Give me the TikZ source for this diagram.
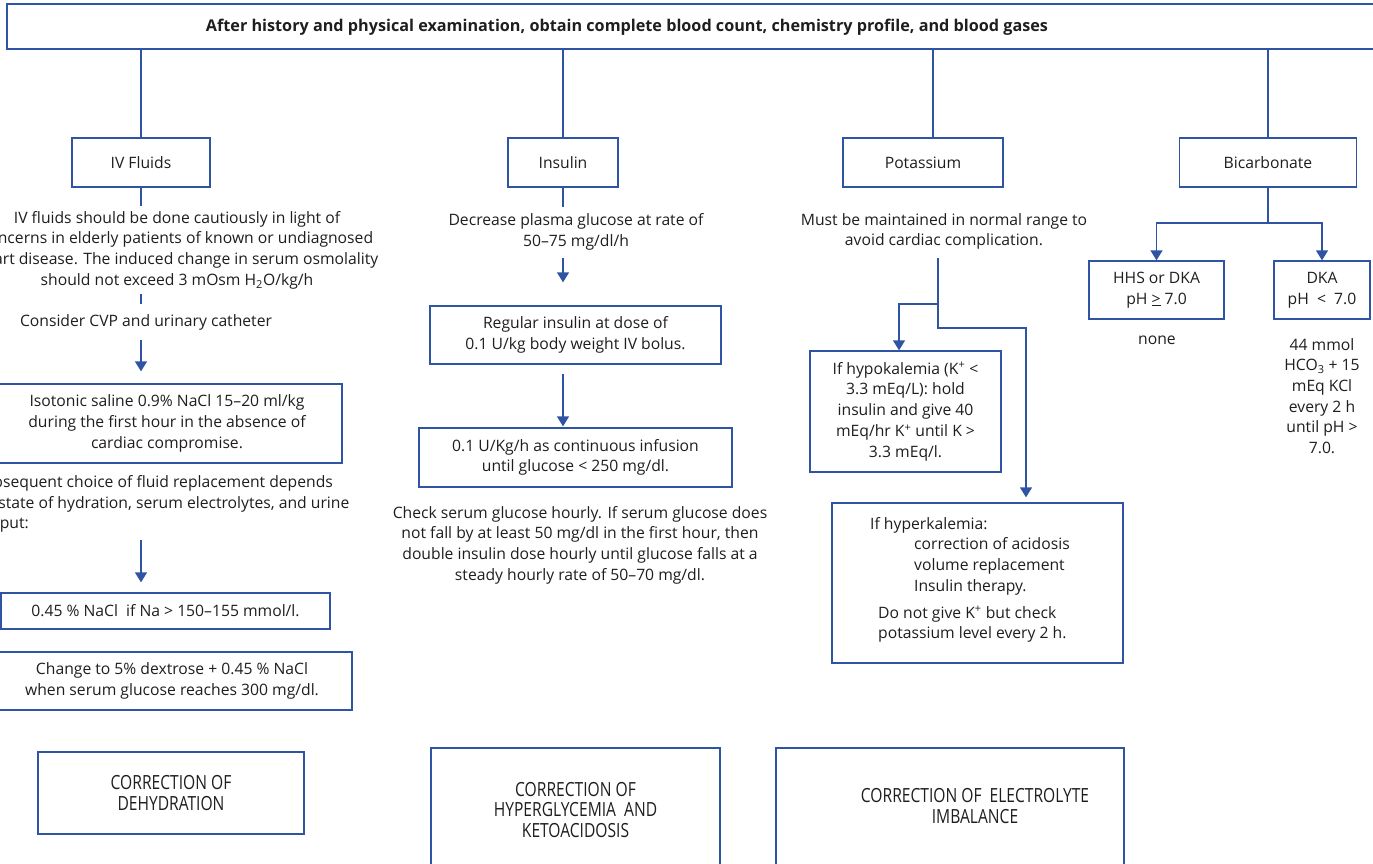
\documentclass[tikz,border=0pt]{standalone}
\usepackage{fontspec}
\setmainfont{Open Sans}
\newfontfamily\narrowfont[FakeStretch=0.8]{Open Sans}
\usetikzlibrary{arrows.meta}
\definecolor{flowblue}{RGB}{47,84,163}
\definecolor{ink}{RGB}{30,30,30}

\begin{document}
\begin{tikzpicture}[x=1pt,y=-1pt,
  every node/.style={text=ink, font=\fontsize{15.7}{20.7}\selectfont, inner sep=0pt, align=center},
  box/.style={draw=flowblue, line width=1.3pt, inner sep=0pt},
  link/.style={draw=flowblue, line width=1.3pt},
  arrowlink/.style={link, -{Triangle[width=12pt,length=10pt]}},
  capstext/.style={font=\narrowfont\fontsize{19.5}{20.5}\selectfont}
]
\useasboundingbox (0,0) rectangle (1373,864);

% heading
\node[box, minimum width=1390pt, minimum height=45pt] (top) at (702,26.5) {};
\node[font=\bfseries\fontsize{16.2}{18}\selectfont] (title) at (627,27)
  {After history and physical examination, obtain complete blood count, chemistry profile, and blood gases};

% the four branches
\node[box, minimum width=138pt, minimum height=49pt] (ivf) at (141,162.5) {IV Fluids};
\node[box, minimum width=110pt, minimum height=49pt] (ins) at (563,162.5) {Insulin};
\node[box, minimum width=160pt, minimum height=49pt] (pot) at (923,162.5) {Potassium};
\node[box, minimum width=177pt, minimum height=49pt] (bic) at (1268,162.5) {Bicarbonate};

\draw[link] (ivf.north) -- (ivf.north |- top.south);
\draw[link] (ins.north) -- (ins.north |- top.south);
\coordinate (potin) at ([xshift=10pt]pot.north);
\draw[link] (potin) -- (potin |- top.south);
\draw[link] (bic.north) -- (bic.north |- top.south);

% IV fluids
\node (ivtxt) at (177,250) {IV fluids should be done cautiously in light of\\concerns in elderly patients of known or undiagnosed\\heart disease. The induced change in serum osmolality\\should not exceed 3 mOsm H\textsubscript{2}O/kg/h};
\node (cvp) at (146,322) {Consider CVP and urinary catheter};
\node[box, minimum width=350pt, minimum height=79pt] (iso) at (167,423.5)
  {Isotonic saline 0.9\% NaCl 15--20 ml/kg\\during the first hour in the absence of\\cardiac compromise.};
\node[align=left, anchor=west] (subs) at (-25,504)
  {Subsequent choice of fluid replacement depends\\on state of hydration, serum electrolytes, and urine\\output:};
\node[box, minimum width=329pt, minimum height=36pt] (nacl) at (165.5,611)
  {0.45 \% NaCl\ \ if Na > 150--155 mmol/l.};
\node[box, minimum width=360pt, minimum height=58pt] (dex) at (172,681)
  {Change to 5\% dextrose + 0.45 \% NaCl\\when serum glucose reaches 300 mg/dl.};

\draw[link, shorten >=5pt] (ivf.south) -- (ivf.south |- ivtxt.north);
\draw[link, shorten <=5pt, shorten >=10pt] (ivf.south |- ivtxt.south) -- (ivf.south |- cvp.north);
\draw[arrowlink, shorten <=10pt, shorten >=12pt] (ivf.south |- cvp.south) -- (ivf.south |- iso.north);
\draw[arrowlink, shorten <=7pt, shorten >=10pt] (ivf.south |- subs.south) -- (ivf.south |- nacl.north);

% insulin
\node (instxt) at (576,232) {Decrease plasma glucose at rate of\\50--75 mg/dl/h};
\node[box, minimum width=291pt, minimum height=58pt] (reg) at (575.5,335)
  {Regular insulin at dose of\\0.1 U/kg body weight IV bolus.};
\node[box, minimum width=313pt, minimum height=59pt] (inf) at (575.5,457.5)
  {0.1 U/Kg/h as continuous infusion\\until glucose < 250 mg/dl.};
\node (check) at (580,545) {Check serum glucose hourly. If serum glucose does\\not fall by at least 50 mg/dl in the first hour, then\\double insulin dose hourly until glucose falls at a\\steady hourly rate of 50--70 mg/dl.};

\draw[link, shorten >=7pt] (ins.south) -- (ins.south |- instxt.north);
\draw[arrowlink, shorten <=8pt, shorten >=23pt] (ins.south |- instxt.south) -- (ins.south |- reg.north);
\draw[arrowlink, shorten <=9pt, shorten >=1pt] (ins.south |- reg.south) -- (ins.south |- inf.north);

% potassium
\node (pottxt) at (944,231.5) {Must be maintained in normal range to\\avoid cardiac complication.};
\node[box, minimum width=191pt, minimum height=121pt] (hypo) at (905.5,411.5)
  {If hypokalemia (K\textsuperscript{+} <\\3.3 mEq/L): hold\\insulin and give 40\\mEq/hr K\textsuperscript{+} until K >\\3.3 mEq/l.};
\node[box, minimum width=291pt, minimum height=160pt] (hyper) at (977.5,583) {};
\node[align=left, anchor=north west] (hypertxt) at (870,517)
  {If hyperkalemia:\\
   \hspace*{44pt}correction of acidosis\\
   \hspace*{44pt}volume replacement\\
   \hspace*{44pt}Insulin therapy.\\[6pt]
   \hspace*{8pt}Do not give K\textsuperscript{+} but check\\
   \hspace*{8pt}potassium level every 2 h.};

\coordinate (kstem) at (938,258);
\coordinate (ksplit) at (938,304);
\coordinate (kturn) at (938,328);
\coordinate (hypoin) at ([xshift=-6.5pt]hypo.north);
\coordinate (hyperin) at ([xshift=48.5pt]hyper.north);
\draw[arrowlink] (kstem) -- (ksplit) -| (hypoin);
\draw[arrowlink, shorten >=5pt] (ksplit) -- (kturn) -| (hyperin);

% bicarbonate
\node[box, minimum width=135pt, minimum height=58pt] (hhs) at (1156.5,290)
  {HHS or DKA\\pH \underline{>} 7.0};
\node[box, minimum width=96pt, minimum height=58pt] (dka) at (1322,290)
  {DKA\\pH\ \ <\ \ 7.0};
\node (none) at (1157,340) {none};
\node (bicdose) at (1322,396)
  {44 mmol\\HCO\textsubscript{3} + 15\\mEq KCl\\every 2 h\\until pH >\\7.0.};
\coordinate (bsplit) at (1268,223);
\draw[link] (bic.south) -- (bsplit);
\draw[arrowlink] (bsplit) -| (hhs.north);
\draw[arrowlink] (bsplit) -| (dka.north);

% goals
\node[box, capstext, minimum width=266pt, minimum height=82pt] (goaldehyd) at (171,793)
  {CORRECTION OF\\DEHYDRATION};
\node[box, capstext, minimum width=289pt, minimum height=124pt] (goalglu) at (575.5,810)
  {CORRECTION OF\\HYPERGLYCEMIA\ \ AND\\KETOACIDOSIS};
\node[box, minimum width=348pt, minimum height=124pt] (goalelec) at (950,810) {};
\node[capstext] (goalelectxt) at (975,806) {CORRECTION OF\ \ ELECTROLYTE\\IMBALANCE};
\end{tikzpicture}
\end{document}
